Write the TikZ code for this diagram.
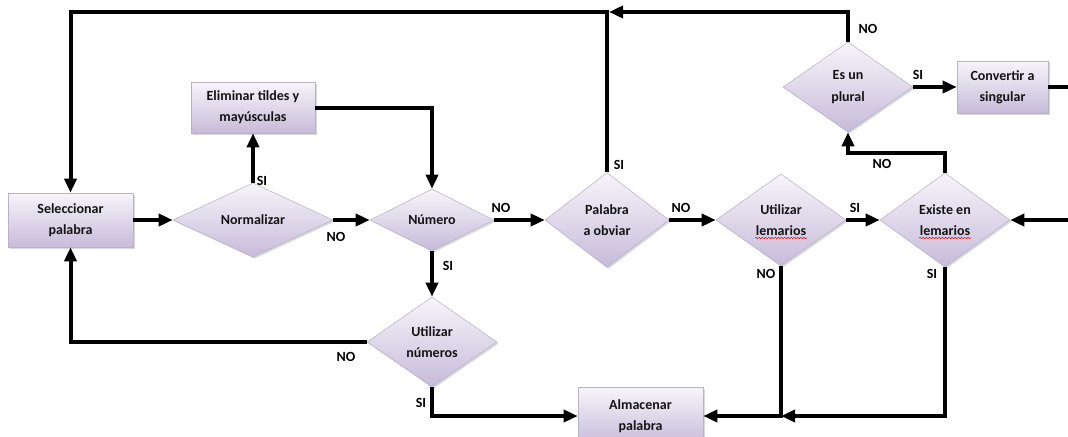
\documentclass[tikz,border=0pt]{standalone}
\usepackage{fontspec}
\setmainfont{Carlito}
\usepackage{tikz}
\usetikzlibrary{shapes.geometric, arrows.meta, shadows, decorations.pathmorphing}

\definecolor{lilatop}{HTML}{F7F5FA}
\definecolor{lilabot}{HTML}{C6BBD9}
\definecolor{lilaedge}{HTML}{B9B0CA}
\definecolor{texto}{HTML}{141414}

\tikzset{
  caja/.style={rectangle, draw=lilaedge, line width=0.4pt, top color=lilatop, bottom color=lilabot,
    align=center, text=texto, font=\fontsize{10.5}{16}\selectfont\bfseries, inner sep=0pt,
    drop shadow={shadow xshift=1.2pt, shadow yshift=-1.2pt, opacity=0.3, fill=gray}},
  decision/.style={caja, diamond},
  flecha/.style={line width=3pt, -{Triangle[length=10.5pt,width=9pt]}},
  linea/.style={line width=3pt},
  etiq/.style={font=\fontsize{10.5}{12}\selectfont\bfseries, inner sep=0pt},
  subr/.style={red, line width=0.4pt, decorate, decoration={snake, amplitude=0.5pt, segment length=2.4pt}}
}

\begin{document}
\begin{tikzpicture}[x=0.75pt, y=-0.75pt]
\useasboundingbox (0,0) rectangle (1068,436);
\clip (0,0) rectangle (1068,436);

% Cajas
\node[caja, minimum width=93.75pt, minimum height=40.5pt] (sel) at (70.5,220) {Seleccionar\\palabra};
\node[caja, minimum width=93pt, minimum height=38.25pt] (elim) at (253,107.5) {Eliminar tildes y\\mayúsculas};
\node[caja, minimum width=68.25pt, minimum height=39pt] (conv) at (1002.5,87) {Convertir a\\singular};
\node[caja, minimum width=93.75pt, minimum height=43.5pt] (alm) at (640.5,416) {Almacenar\\palabra};

% Decisiones
\node[decision, minimum width=120pt, minimum height=46.5pt] (norm) at (253,220) {Normalizar};
\node[decision, minimum width=93pt, minimum height=46.5pt] (num) at (432,220) {Número};
\node[decision, minimum width=97.5pt, minimum height=67.5pt] (unum) at (432,342) {Utilizar\\números};
\node[decision, minimum width=93pt, minimum height=71pt] (pal) at (607,220) {Palabra\\a obviar};
\node[decision, minimum width=97.5pt, minimum height=69pt] (ulem) at (781,220) {Utilizar\\lemarios};
\node[decision, minimum width=97.5pt, minimum height=70.5pt] (exist) at (945,220) {Existe en\\lemarios};
\node[decision, minimum width=97.5pt, minimum height=67.5pt] (plural) at (848,87) {Es un\\plural};

% subrayado del corrector
\draw[subr] (755,238) -- (807,238);
\draw[subr] (919,238) -- (971,238);

\coordinate (arriba) at (0,12);
\coordinate (borde) at (1068,0);

% Flechas
\draw[flecha] (sel) -- (norm);
\draw[flecha] (norm.north) -- (elim.south);
\draw[flecha] (elim.east) -| (num.north);
\draw[flecha] (norm) -- (num);
\draw[flecha] (num) -- (pal);
\draw[flecha] (num) -- (unum);
\draw[flecha] (unum.west) -| (sel.south);
\draw[flecha] (unum.south) |- (alm.west);
\draw[flecha] (pal) -- (ulem);
\draw[flecha] (ulem) -- (exist);
\draw[flecha] (ulem.south) |- (alm.east);
\draw[flecha] (exist.south) |- (ulem.south |- alm.east);
\draw[flecha] (exist.north) -- ++(0,-20) -| (plural.south);
\draw[flecha] (plural) -- (conv);
\draw[flecha] (pal.north) |- (sel.north |- arriba) -- (sel.north);
\draw[flecha, shorten >=1.5pt] (plural.north) |- (pal.north |- arriba);
\draw[linea] (conv.east) -- (conv.east -| borde);
\draw[flecha] (exist.east -| borde) -- (exist.east);

% Etiquetas
\node[etiq] (siNorm) at (262,181) {SI};
\node[etiq] (noNorm) at (336,237) {NO};
\node[etiq] (noNum) at (501,208) {NO};
\node[etiq] (siNum) at (448,266) {SI};
\node[etiq] (noUnum) at (346,357) {NO};
\node[etiq] (siUnum) at (421,403) {SI};
\node[etiq] (siPal) at (619,165) {SI};
\node[etiq] (noPal) at (681,208) {NO};
\node[etiq] (siUlem) at (855,208) {SI};
\node[etiq] (noUlem) at (766,274) {NO};
\node[etiq] (siExist) at (932,274) {SI};
\node[etiq] (noExist) at (882,164) {NO};
\node[etiq] (noPlural) at (868,29) {NO};
\node[etiq] (siPlural) at (918,75) {SI};
\end{tikzpicture}
\end{document}
